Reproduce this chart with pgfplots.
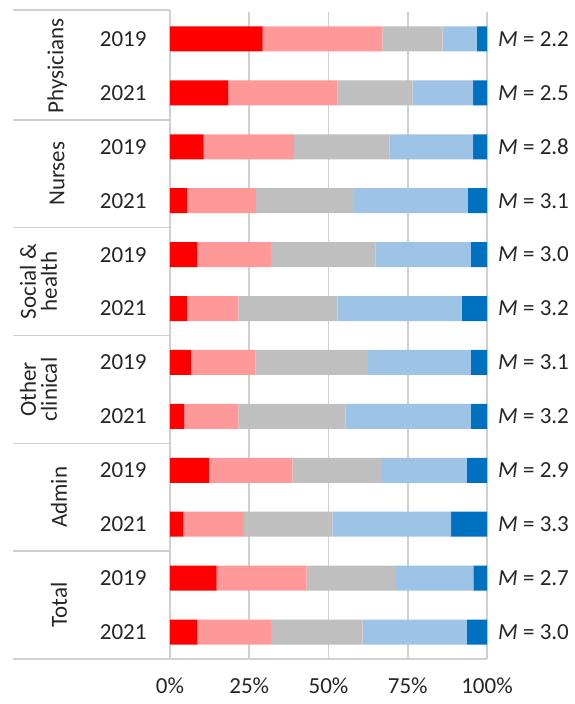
\documentclass[border=0pt]{standalone}
\usepackage{pgfplots}
\pgfplotsset{compat=1.18}
\usepackage{pgfplotstable}
\usepackage{fontspec}
\setmainfont{Carlito}
\definecolor{c1}{HTML}{FF0000}
\definecolor{c2}{HTML}{FF9999}
\definecolor{c3}{HTML}{BFBFBF}
\definecolor{c4}{HTML}{9DC3E6}
\definecolor{c5}{HTML}{0070C0}
\definecolor{gridc}{HTML}{D0D0D0}
\definecolor{txt}{HTML}{262626}
\pgfplotstableread{
y a b c d e
0 29.2 37.8 19.0 10.7 3.3
1 18.4 34.5 23.6 19.1 4.4
2 10.6 28.5 30.1 26.4 4.4
3 5.4 21.7 30.9 36.0 6.0
4 8.6 23.2 33.1 30.0 5.1
5 5.4 16.2 31.2 39.2 8.0
6 6.6 20.3 35.5 32.5 5.1
7 4.5 17.1 33.8 39.5 5.1
8 12.3 26.3 27.9 27.1 6.4
9 4.2 19.1 27.9 37.5 11.3
10 14.7 28.4 28.2 24.4 4.3
11 8.6 23.2 29.0 32.8 6.4
}\tabdata
\tikzset{grp/.style={rotate=90, align=center, text=txt, font=\fontsize{11.5}{10.5}\selectfont},
 mlab/.style={anchor=west, text=txt},
 sep/.style={draw=gridc, line width=0.8pt}}
\begin{document}
\fontsize{11.5}{14}\selectfont
\begin{tikzpicture}
\path[use as bounding box] (-85pt,-22.5pt) rectangle (202pt,329.5pt);
\begin{axis}[at={(0,0)}, anchor=south west, scale only axis,
 width=158.5pt, height=323.5pt,
 xbar stacked, bar width=12.5pt,
 xmin=0, xmax=100, ymin=-0.5, ymax=11.5, y dir=reverse,
 xtick={0,25,50,75,100}, xticklabels={0\%,25\%,50\%,75\%,100\%},
 ytick={0,...,11}, yticklabels={2019,2021,2019,2021,2019,2021,2019,2021,2019,2021,2019,2021},
 major tick length=0, xmajorgrids, grid style={gridc, line width=0.8pt},
 axis line style={draw=none}, clip=false,
 tick label style={font=\fontsize{11.5}{14}\selectfont, text=txt},
 yticklabel style={xshift=-7.7pt},
 xticklabel style={yshift=-5.2pt},
]
\addplot[draw=none, fill=c1] table[x=a, y=y] {\tabdata};
\addplot[draw=none, fill=c2] table[x=b, y=y] {\tabdata};
\addplot[draw=none, fill=c3] table[x=c, y=y] {\tabdata};
\addplot[draw=none, fill=c4] table[x=d, y=y] {\tabdata};
\addplot[draw=none, fill=c5] table[x=e, y=y] {\tabdata};
\draw[sep] (axis cs:-49.5,-0.54) -- (axis cs:0,-0.54);
\draw[sep] (axis cs:-49.5,1.5) -- (axis cs:0,1.5);
\draw[sep] (axis cs:-49.5,3.5) -- (axis cs:0,3.5);
\draw[sep] (axis cs:-49.5,5.5) -- (axis cs:0,5.5);
\draw[sep] (axis cs:-49.5,7.5) -- (axis cs:0,7.5);
\draw[sep] (axis cs:-49.5,9.5) -- (axis cs:0,9.5);
\draw[sep] (axis cs:-49.5,11.5) -- (axis cs:100,11.5);
\draw[sep] (axis cs:0,-0.54) -- (axis cs:0,11.5);
\node[grp] at (axis cs:-35.6,0.5) {Physicians};
\node[grp] at (axis cs:-35.6,2.5) {Nurses};
\node[grp] at (axis cs:-41.5,4.5) {Social \&\\health};
\node[grp] at (axis cs:-41.5,6.5) {Other\\clinical};
\node[grp] at (axis cs:-35.0,8.5) {Admin};
\node[grp] at (axis cs:-35.0,10.5) {Total};
\node[mlab] at (axis cs:101,0) {\textit{M} = 2.2};
\node[mlab] at (axis cs:101,1) {\textit{M} = 2.5};
\node[mlab] at (axis cs:101,2) {\textit{M} = 2.8};
\node[mlab] at (axis cs:101,3) {\textit{M} = 3.1};
\node[mlab] at (axis cs:101,4) {\textit{M} = 3.0};
\node[mlab] at (axis cs:101,5) {\textit{M} = 3.2};
\node[mlab] at (axis cs:101,6) {\textit{M} = 3.1};
\node[mlab] at (axis cs:101,7) {\textit{M} = 3.2};
\node[mlab] at (axis cs:101,8) {\textit{M} = 2.9};
\node[mlab] at (axis cs:101,9) {\textit{M} = 3.3};
\node[mlab] at (axis cs:101,10) {\textit{M} = 2.7};
\node[mlab] at (axis cs:101,11) {\textit{M} = 3.0};
\end{axis}
\end{tikzpicture}
\end{document}
